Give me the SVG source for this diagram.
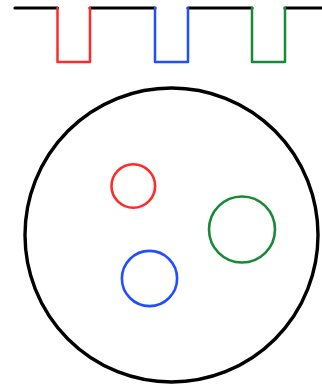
<svg xmlns="http://www.w3.org/2000/svg" width="322" height="385" viewBox="0 0 322 385">
<style>
.w{fill:none;stroke-width:2.5;stroke-linejoin:round;stroke-linecap:round}
.k{stroke:#000}
.r{stroke:#ff2b2b}
.b{stroke:#1f4fff}
.g{stroke:#168a34}
.c{fill:none;stroke-width:2.6}
.o{stroke-width:3.4}
.t{stroke-width:3.2}
</style>
<rect width="322" height="385" fill="#fff"/>
<g id="waveform">
<path class="w k t" d="M15 8H57.5M90 8H155M188 8H252M285 8H322"/>
<path class="w r" d="M57.5 8V62H90V8"/>
<path class="w b" d="M155 8V62H188V8"/>
<path class="w g" d="M252 8V62H285V8"/>
</g>
<g id="outer"><ellipse class="c k o" cx="171.5" cy="235" rx="146.5" ry="147"/></g>
<g id="red"><circle class="c r" cx="133.3" cy="186" r="21.8"/></g>
<g id="green"><circle class="c g" cx="242" cy="229.5" r="33"/></g>
<g id="blue"><circle class="c b" cx="149.5" cy="278.5" r="27.6"/></g>
</svg>
